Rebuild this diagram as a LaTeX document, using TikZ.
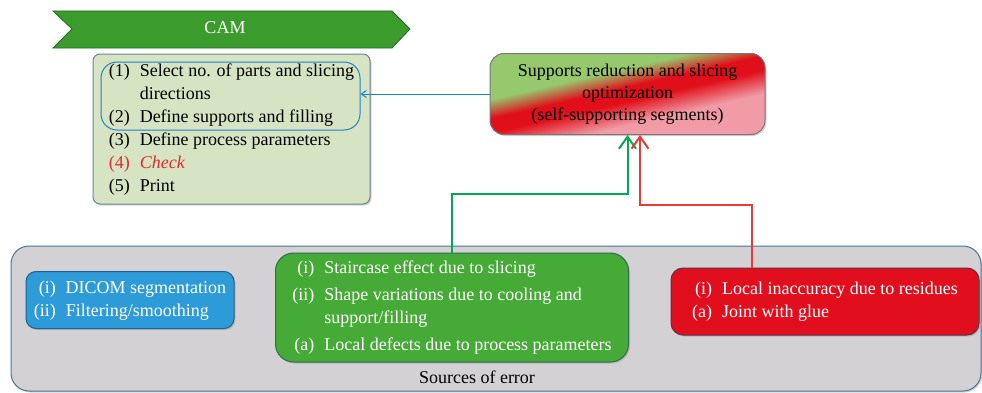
\documentclass[tikz,border=0pt]{standalone}
\usepackage{fontspec}
\setmainfont{Liberation Serif}
\usetikzlibrary{arrows.meta, shadows}

\definecolor{camGreen}{RGB}{60,155,45}
\definecolor{camEdge}{RGB}{35,105,35}
\definecolor{camFill}{RGB}{214,228,196}
\definecolor{camBorder}{RGB}{105,135,150}
\definecolor{selBlue}{RGB}{30,130,200}
\definecolor{suppGreen}{RGB}{150,200,110}
\definecolor{suppRed}{RGB}{225,15,25}
\definecolor{suppPink}{RGB}{240,155,165}
\definecolor{suppBorder}{RGB}{120,120,120}
\definecolor{srcFill}{RGB}{211,209,211}
\definecolor{srcBorder}{RGB}{75,115,155}
\definecolor{dicomFill}{RGB}{45,155,215}
\definecolor{dicomBorder}{RGB}{35,95,140}
\definecolor{errGreen}{RGB}{70,170,55}
\definecolor{errGreenBorder}{RGB}{45,110,80}
\definecolor{errRed}{RGB}{225,15,30}
\definecolor{errRedBorder}{RGB}{100,45,70}
\definecolor{arrGreen}{RGB}{0,170,80}
\definecolor{arrRed}{RGB}{240,55,50}
\definecolor{checkRed}{RGB}{230,40,40}

\pgfdeclarehorizontalshading{suppShading}{100bp}{color(0bp)=(suppGreen); color(39bp)=(suppGreen); color(47bp)=(suppRed); color(53bp)=(suppRed); color(63bp)=(suppPink); color(100bp)=(suppPink)}

\begin{document}
\begin{tikzpicture}[x=1pt, y=1pt, font=\fontsize{18}{23}\selectfont,
    block/.style = {draw, line width=1pt, rounded corners=12pt, inner sep=0pt, drop shadow={shadow xshift=1.5pt, shadow yshift=-1.5pt, opacity=0.35}},
    errbox/.style = {block, text=white},
    tip/.style = {-{Straight Barb[length=12pt, width=17pt]}, line width=2pt}]
    \useasboundingbox (0,0) rectangle (982,392);

    % CAM banner
    \draw [fill=camGreen, draw=camEdge, line width=0.8pt] (53,381) -- (392,381) -- (410,363) -- (392,344) -- (53,344) -- (72,363) -- cycle;
    \node [text=white] (camLabel) at (225,364) {CAM};

    % CAM steps
    \node [block, fill=camFill, draw=camBorder, rounded corners=7pt, minimum width=277pt, minimum height=150pt] (cam) at (231.5,263) {%
        \begin{tabular}{@{}r@{\hspace{10pt}}l@{}}
            (1) & Select no. of parts and slicing\\
                & directions\\
            (2) & Define supports and filling\\
            (3) & Define process parameters\\
            \textcolor{checkRed}{(4)} & \textcolor{checkRed}{\itshape Check}\\
            (5) & Print
        \end{tabular}};
    \node [draw=selBlue, line width=1pt, rounded corners=16pt, minimum width=259pt, minimum height=68pt] (selBox) at (230.5,296) {};

    % optimization
    \node [block, draw=suppBorder, shading=suppShading, shading angle=-77, rounded corners=14pt, minimum width=275pt, minimum height=81pt, align=center, font=\fontsize{18}{22}\selectfont] (supp) at (627.5,298) {Supports reduction and slicing\\ optimization\\ (self-supporting segments)};

    % Sources of error
    \node [block, fill=srcFill, draw=srcBorder, rounded corners=18pt, minimum width=970pt, minimum height=145pt] (src) at (496,73.5) {};
    \node (srcLabel) at (477,15) {Sources of error};

    \node [errbox, fill=dicomFill, draw=dicomBorder, rounded corners=10pt, minimum width=208pt, minimum height=57pt] (dicom) at (130,92) {%
        \begin{tabular}{@{}r@{\hspace{10pt}}l@{}}
            (i) & DICOM segmentation\\
            (ii) & Filtering/smoothing
        \end{tabular}};
    \node [errbox, fill=errGreen, draw=errGreenBorder, rounded corners=18pt, minimum width=353pt, minimum height=109pt] (print) at (452,84.5) {%
        \begin{tabular}{@{}r@{\hspace{10pt}}l@{}}
            (i) & Staircase effect due to slicing\\[4pt]
            (ii) & Shape variations due to cooling and\\
                 & support/filling\\[4pt]
            (a) & Local defects due to process parameters
        \end{tabular}};
    \node [errbox, fill=errRed, draw=errRedBorder, rounded corners=12pt, minimum width=308pt, minimum height=67pt] (glue) at (825,90.5) {%
        \begin{tabular}{@{}r@{\hspace{10pt}}l@{}}
            (i) & Local inaccuracy due to residues\\
            (a) & Joint with glue
        \end{tabular}};

    % feedback
    \draw [-{Straight Barb[length=5pt, width=7pt]}, draw=selBlue, line width=1pt] (supp.west) -- (supp.west -| selBox.east);
    \draw [tip, draw=arrGreen] (print.north) -- ++(0,59) -| (supp.south);
    \draw [tip, draw=arrRed] ([xshift=-73pt]glue.north) -- ++(0,63) -| ([xshift=12.5pt]supp.south);
\end{tikzpicture}
\end{document}
